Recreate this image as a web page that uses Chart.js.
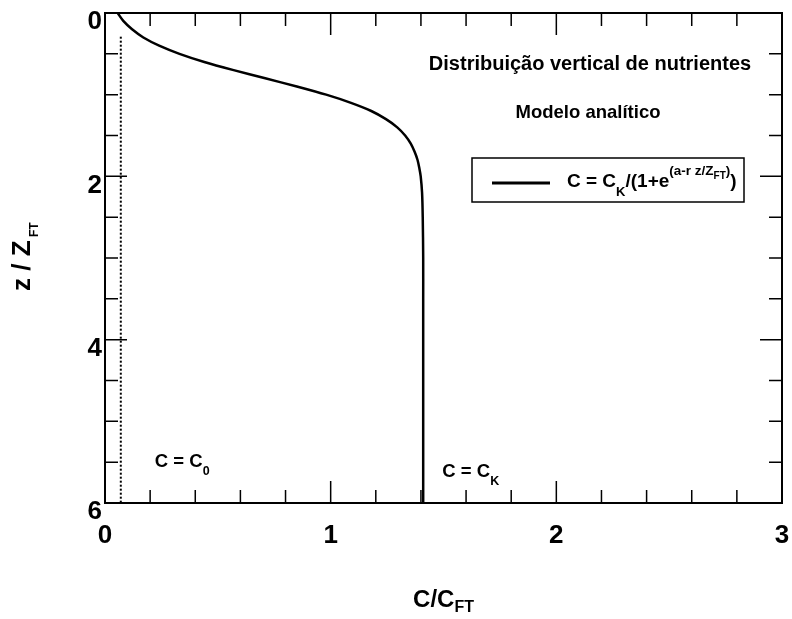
<!DOCTYPE html>
<html>
<head>
<meta charset="utf-8">
<title>Distribuição vertical de nutrientes</title>
<script src="https://cdn.jsdelivr.net/npm/chart.js@4.4.1/dist/chart.umd.min.js"></script>
<style>
  html, body { margin: 0; padding: 0; background: #fff; }
  canvas { display: block; }
</style>
</head>
<body>
<canvas id="perfil" width="792" height="619"></canvas>
<script>
// perfil vertical: profundidade z/Z_FT e concentração C/C_FT
const depth = [0, 0.1, 0.2, 0.3, 0.4, 0.5, 0.6, 0.7, 0.8, 0.9, 1.0, 1.1, 1.2, 1.3,
  1.4, 1.5, 1.6, 1.7, 1.8, 1.9, 2.0, 2.2, 2.5, 3.0, 3.5, 4.0, 5.0, 6.0];
const concentration = [0.056, 0.082, 0.12, 0.17, 0.24, 0.33, 0.44, 0.57, 0.71, 0.85,
  0.98, 1.09, 1.18, 1.245, 1.295, 1.33, 1.355, 1.372, 1.385, 1.393, 1.399, 1.405,
  1.408, 1.41, 1.41, 1.41, 1.41, 1.41];

// linha pontilhada de C = C0
const baseDepth = [0.29, 6];
const baseConcentration = [0.07, 0.07];

const xTicks = [0, 1, 2, 3];
const yTicks = [0, 2, 4, 6];

const FAMILY = "'Liberation Sans', Arial, sans-serif";

function toPoints(xs, ys) {
  return xs.map((v, i) => ({ x: v, y: ys[i] }));
}

// escreve texto com índices e expoentes, parte a parte
function rich(ctx, x, y, parts) {
  for (const [text, size, dy] of parts) {
    ctx.font = `bold ${size}px ${FAMILY}`;
    ctx.fillText(text, x, y + (dy || 0));
    x += ctx.measureText(text).width;
  }
  return x;
}

function richWidth(ctx, parts) {
  let w = 0;
  for (const [text, size] of parts) {
    ctx.font = `bold ${size}px ${FAMILY}`;
    w += ctx.measureText(text).width;
  }
  return w;
}

const frame = {
  id: 'frame',
  afterDraw(chart) {
    const { ctx, chartArea: a, scales: { x, y } } = chart;
    ctx.save();
    ctx.strokeStyle = '#000';
    ctx.fillStyle = '#000';

    // marcas para dentro nos quatro lados
    ctx.lineWidth = 1.5;
    ctx.beginPath();
    for (let i = 0; i <= 15; i++) {
      const px = x.getPixelForValue(i * 0.2);
      const len = i % 5 === 0 ? 22 : 13;
      ctx.moveTo(px, a.bottom); ctx.lineTo(px, a.bottom - len);
      ctx.moveTo(px, a.top); ctx.lineTo(px, a.top + len);
    }
    for (let i = 0; i <= 12; i++) {
      const py = y.getPixelForValue(i * 0.5);
      const len = i % 4 === 0 ? 22 : 13;
      ctx.moveTo(a.left, py); ctx.lineTo(a.left + len, py);
      ctx.moveTo(a.right, py); ctx.lineTo(a.right - len, py);
    }
    ctx.stroke();

    ctx.lineWidth = 2;
    ctx.strokeRect(a.left, a.top, a.right - a.left, a.bottom - a.top);

    ctx.textAlign = 'left';
    ctx.textBaseline = 'alphabetic';

    // títulos dentro do gráfico
    const title = [['Distribuição vertical de nutrientes', 20]];
    rich(ctx, 590 - richWidth(ctx, title) / 2, 70, title);
    const sub = [['Modelo analítico', 18.5]];
    rich(ctx, 588 - richWidth(ctx, sub) / 2, 118, sub);

    // legenda
    ctx.lineWidth = 1.5;
    ctx.strokeRect(472, 158, 272, 44);
    ctx.lineWidth = 3;
    ctx.beginPath();
    ctx.moveTo(492, 183); ctx.lineTo(550, 183);
    ctx.stroke();
    rich(ctx, 567, 187, [
      ['C = C', 19], ['K', 13, 9], ['/(1+e', 19],
      ['(a-r z/Z', 13.5, -12], ['FT', 10, -8], [')', 13.5, -12], [')', 19]
    ]);

    // rótulos das duas assíntotas
    rich(ctx, x.getPixelForValue(0.221), y.getPixelForValue(5.56),
      [['C = C', 18.5], ['0', 12.5, 8]]);
    rich(ctx, x.getPixelForValue(1.495), y.getPixelForValue(5.68),
      [['C = C', 18.5], ['K', 12.5, 8]]);

    // título do eixo x
    const xt = [['C/C', 24], ['FT', 16, 5]];
    rich(ctx, (a.left + a.right) / 2 - richWidth(ctx, xt) / 2, 607, xt);

    // título do eixo y, girado
    const yt = [['z / Z', 26], [' FT', 12, 8]];
    ctx.translate(30, 291);
    ctx.rotate(-Math.PI / 2);
    rich(ctx, 0, 0, yt);

    ctx.restore();
  }
};

new Chart(document.getElementById('perfil'), {
  type: 'scatter',
  data: {
    datasets: [{
      label: 'C = CK/(1+e^(a-r z/ZFT))',
      data: toPoints(concentration, depth),
      showLine: true,
      borderColor: '#000',
      borderWidth: 2.5,
      pointRadius: 0,
      tension: 0.3
    }, {
      label: 'C = C0',
      data: toPoints(baseConcentration, baseDepth),
      showLine: true,
      borderColor: '#000',
      borderWidth: 2,
      borderDash: [2, 2],
      pointRadius: 0
    }]
  },
  options: {
    responsive: false,
    animation: false,
    layout: { padding: { left: 0, top: 13, right: 10, bottom: 0 } },
    plugins: {
      legend: { display: false },
      tooltip: { enabled: false }
    },
    scales: {
      x: {
        type: 'linear',
        position: 'bottom',
        min: 0,
        max: 3,
        afterBuildTicks: s => { s.ticks = xTicks.map(v => ({ value: v })); },
        afterFit: s => { s.height = 116; s.paddingLeft = 0; s.paddingRight = 0; },
        ticks: {
          color: '#000',
          padding: 17,
          font: { family: FAMILY, size: 26, weight: 'bold' }
        },
        grid: { display: false, drawTicks: false },
        border: { display: false }
      },
      y: {
        type: 'linear',
        position: 'left',
        reverse: true,
        min: 0,
        max: 6,
        afterBuildTicks: s => { s.ticks = yTicks.map(v => ({ value: v })); },
        afterFit: s => { s.width = 105; s.paddingTop = 0; s.paddingBottom = 0; },
        ticks: {
          color: '#000',
          padding: 3,
          labelOffset: 9,
          font: { family: FAMILY, size: 26, weight: 'bold' }
        },
        grid: { display: false, drawTicks: false },
        border: { display: false }
      }
    }
  },
  plugins: [frame]
});
</script>
</body>
</html>
